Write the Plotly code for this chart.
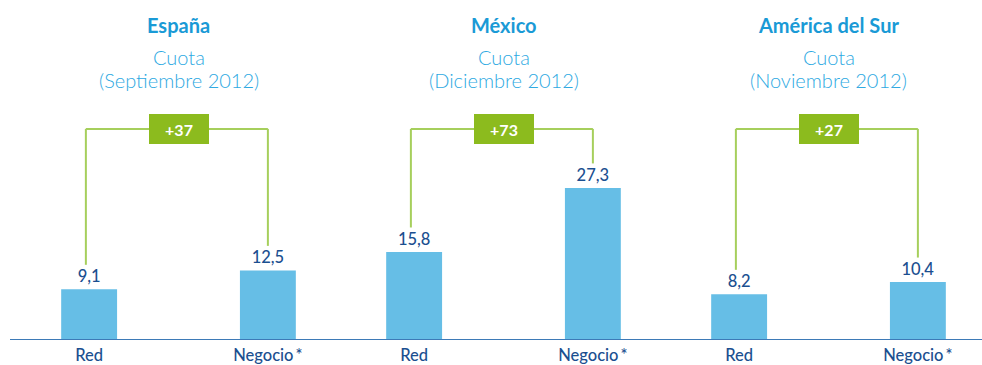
import plotly.graph_objects as go

# Market share data by region
regions = ["España", "México", "América del Sur"]
periods = ["(Septiembre 2012)", "(Diciembre 2012)", "(Noviembre 2012)"]
subtitle = "Cuota"
bar_labels = ["Red", "Negocio\u2009*"]
red_values = [9.1, 15.8, 8.2]
negocio_values = [12.5, 27.3, 10.4]
increase_labels = ["+37", "+73", "+27"]

BAR_BLUE = "#66bee6"
NAVY = "#1b4f90"
TITLE_BLUE = "#1a9ad6"
SUB_BLUE = "#2ea9e2"
GREEN_BOX = "#8cbb1e"
GREEN_LINE = "#a6cf5c"
AXIS_BLUE = "#3d7ab7"
FONT = "Lato, 'Open Sans', sans-serif"

offset = 0.275     # half distance between the two bars of a region
bar_w = 0.172
bracket_y = 37.9   # height of the bracket connecting the two bars
gap = 4.4          # space left above a bar for its value label

xs, ys, texts, ticks, ticktext = [], [], [], [], []
for g in range(len(regions)):
    for j, v in enumerate([red_values[g], negocio_values[g]]):
        x = g + (-offset if j == 0 else offset)
        xs.append(x)
        ys.append(v)
        texts.append(f"{v:.1f}".replace(".", ","))
        ticks.append(x)
        ticktext.append(bar_labels[j])

fig = go.Figure(go.Bar(
    x=xs, y=ys, width=bar_w,
    marker=dict(color=BAR_BLUE, line=dict(width=0)),
    text=texts, textposition="outside", cliponaxis=False,
    textfont=dict(family=FONT, size=16.5, color=NAVY, weight=500),
    hoverinfo="skip",
))

shapes = []
annotations = []
for g in range(len(regions)):
    xl, xr = g - offset - 0.01, g + offset
    # bracket: two verticals joined by a horizontal line
    shapes.append(dict(type="line", xref="x", yref="y", x0=xl, x1=xl,
                       y0=red_values[g] + gap, y1=bracket_y,
                       line=dict(color=GREEN_LINE, width=2)))
    shapes.append(dict(type="line", xref="x", yref="y", x0=xr, x1=xr,
                       y0=negocio_values[g] + gap, y1=bracket_y,
                       line=dict(color=GREEN_LINE, width=2)))
    shapes.append(dict(type="line", xref="x", yref="y", x0=xl, x1=xr,
                       y0=bracket_y, y1=bracket_y,
                       line=dict(color=GREEN_LINE, width=2)))
    annotations.append(dict(
        x=g, y=bracket_y, xref="x", yref="y", text=f"<b>{increase_labels[g]}</b>",
        showarrow=False, bgcolor=GREEN_BOX, width=60, height=30,
        borderpad=0, borderwidth=0, xanchor="center", yanchor="middle",
        font=dict(family=FONT, size=16, color="white"),
    ))
    # region headings
    annotations.append(dict(
        x=g, y=(340 - 25) / 340, xref="x", yref="paper",
        text=f"<b>{regions[g]}</b>", showarrow=False,
        yanchor="middle", font=dict(family=FONT, size=20, color=TITLE_BLUE),
    ))
    annotations.append(dict(
        x=g, y=(340 - 57) / 340, xref="x", yref="paper",
        text=subtitle, showarrow=False, yanchor="middle",
        font=dict(family=FONT, size=20, color=SUB_BLUE, weight=300),
    ))
    annotations.append(dict(
        x=g, y=(340 - 80) / 340, xref="x", yref="paper",
        text=periods[g], showarrow=False, yanchor="middle",
        font=dict(family=FONT, size=20, color=SUB_BLUE, weight=300),
    ))

# baseline
shapes.append(dict(type="line", xref="paper", yref="y", x0=10 / 982, x1=1,
                   y0=0, y1=0, line=dict(color=AXIS_BLUE, width=2)))

fig.update_layout(
    width=982, height=365,
    margin=dict(l=0, r=0, t=0, b=25),
    plot_bgcolor="white", paper_bgcolor="white",
    showlegend=False,
    shapes=shapes, annotations=annotations,
    xaxis=dict(range=[-178.5 / 325, (982 - 178.5) / 325],
               tickvals=ticks, ticktext=ticktext,
               showgrid=False, zeroline=False, showline=False, ticks="",
               ticklabelstandoff=3,
               tickfont=dict(family=FONT, size=16.5, color=NAVY, weight=500),
               fixedrange=True),
    yaxis=dict(range=[0, 340 / 5.57], visible=False, fixedrange=True),
)

fig.write_html("out.html")
